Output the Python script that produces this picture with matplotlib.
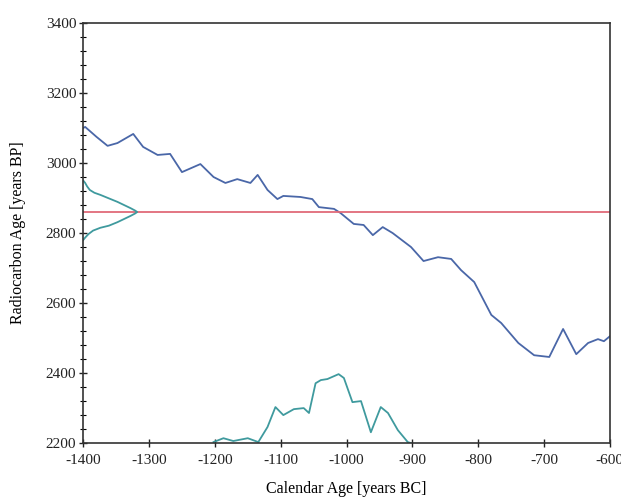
import matplotlib
matplotlib.use("Agg")
import matplotlib.pyplot as plt
from matplotlib.ticker import MultipleLocator

# Calibration curve (calendar year BC, radiocarbon age BP)
cal_x = [-1400, -1397, -1380, -1363, -1348, -1324, -1309, -1287, -1268, -1250,
         -1222, -1202, -1184, -1166, -1146, -1135, -1120, -1105, -1096, -1070,
         -1052, -1042, -1019, -1009, -989, -974, -960, -945, -930, -902,
         -883, -861, -841, -826, -806, -780, -765, -739, -715, -692,
         -671, -651, -633, -618, -609, -600]
cal_y = [3100, 3103, 3075, 3049, 3057, 3083, 3046, 3023, 3026, 2974,
         2997, 2960, 2943, 2954, 2943, 2966, 2923, 2897, 2906, 2903,
         2897, 2874, 2869, 2857, 2826, 2823, 2794, 2817, 2800, 2760,
         2720, 2731, 2726, 2694, 2660, 2566, 2543, 2486, 2451, 2446,
         2526, 2454, 2486, 2497, 2491, 2505]

# Measured radiocarbon age
measured_age = 2860

# Measurement distribution on the y axis (age BP, height in years from left edge)
meas_age = [2950, 2943, 2933, 2923, 2915, 2909, 2899, 2889, 2880, 2871, 2864,
            2860, 2856, 2849, 2840, 2831, 2821, 2815, 2807, 2797, 2787, 2780]
meas_height = [0, 3, 6, 10, 17, 26, 39, 52, 62, 72, 79,
               82, 79, 72, 62, 52, 39, 26, 15, 8, 3, 0]

# Calibrated distribution on the x axis (calendar year, top value in BP scale)
prob_x = [-1202, -1187, -1172, -1150, -1134, -1120, -1108, -1096, -1080, -1065,
          -1057, -1047, -1039, -1029, -1012, -1004, -991, -978, -963, -948,
          -937, -922, -907, -902]
prob_y = [2203, 2214, 2206, 2214, 2203, 2246, 2303, 2280, 2297, 2300,
          2286, 2371, 2380, 2383, 2397, 2386, 2317, 2320, 2231, 2303,
          2286, 2237, 2203, 2200]

plt.rcParams['font.family'] = ['Liberation Serif', 'DejaVu Serif']
plt.rcParams['axes.unicode_minus'] = False

fig = plt.figure(figsize=(6.21, 4.99), dpi=100)
ax = fig.add_axes([0.134, 0.112, 0.848, 0.842])

ax.plot(cal_x, cal_y, color='#4a67a8', lw=1.3)
ax.axhline(measured_age, color='#e06a78', lw=1.3)
ax.plot([-1400 + h for h in meas_height], meas_age, color='#3f9a9e', lw=1.3)
ax.plot(prob_x, prob_y, color='#3f9a9e', lw=1.3)

ax.set_xlim(-1400, -600)
ax.set_ylim(2200, 3400)
ax.xaxis.set_major_locator(MultipleLocator(100))
ax.yaxis.set_major_locator(MultipleLocator(200))
ax.yaxis.set_minor_locator(MultipleLocator(40))
ax.tick_params(axis='both', which='major', direction='inout', length=6,
               width=1, labelsize=11, colors='#222222')
ax.tick_params(axis='x', which='major', pad=5)
ax.tick_params(axis='y', which='major', pad=2)
ax.tick_params(axis='y', which='minor', direction='inout', length=4, width=0.8)

for s in ax.spines.values():
    s.set_linewidth(1.2)
    s.set_color('#333333')

ax.set_xlabel('Calendar Age [years BC]', fontsize=11.5, labelpad=10)
ax.set_ylabel('Radiocarbon Age [years BP]', fontsize=11.5, labelpad=14)

fig.savefig('out.png', dpi=100)
